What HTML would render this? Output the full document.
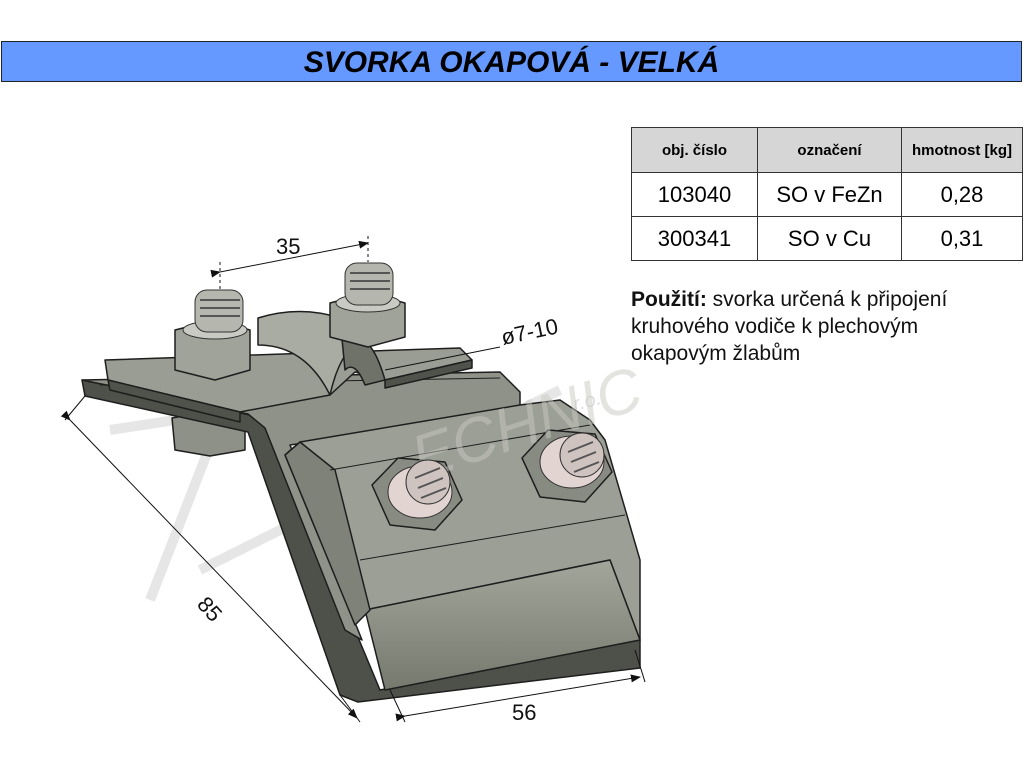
<!DOCTYPE html>
<html><head><meta charset="utf-8"><style>
body{margin:0;width:1027px;height:768px;background:#fff;position:relative;overflow:hidden;font-family:"Liberation Sans",sans-serif}
.title{position:absolute;left:1px;top:41px;width:1019px;height:39px;background:#6699ff;border:1px solid #222;}
.title span{position:absolute;left:0;width:1019px;top:1px;text-align:center;font-weight:bold;font-style:italic;font-size:30px;line-height:40px;color:#000}
table{position:absolute;left:631px;top:127px;border-collapse:collapse;}
td{border:1.5px solid #333;text-align:center;padding:0}
.h td{background:#d6d6d6;font-weight:bold;font-size:15px;height:44px}
.r td{font-size:22px;height:43px}
.txt{position:absolute;left:631px;top:286px;font-size:21px;line-height:27px;color:#111}
</style></head><body>
<svg width="1027" height="768" style="position:absolute;left:0;top:0">
<defs>
<marker id="a" markerWidth="10" markerHeight="8" refX="9" refY="4" orient="auto"><path d="M0,0 L10,4 L0,8 Z" fill="#111"/></marker>
<linearGradient id="g1" x1="0" y1="0" x2="0" y2="1"><stop offset="0" stop-color="#a3a69b"/><stop offset="1" stop-color="#75796e"/></linearGradient>
</defs>
<g fill="none" stroke="#e6e6e6" stroke-width="10">
<path d="M110,430 L240,410 M150,600 L220,420 M200,570 L560,390"/>
</g>
<text x="560" y="415" font-size="20" font-style="italic" fill="#dcdcdc" transform="rotate(-15 560 415)">s.r.o.</text>
<g stroke="#1e1e1e" stroke-width="1.5" stroke-linejoin="round">
<polygon points="172,418 205,412 245,418 245,450 210,456 175,450" fill="#8e9188"/>
<polygon points="82,380 85,396 248,432 340,695 358,702 640,668 640,640 380,690 355,630 270,430 250,415" fill="#4d5149"/>
<polygon points="82,380 500,372 520,392 520,410 290,445 300,470 350,610 362,640 345,630 265,428 248,414" fill="#8f9288"/>
<line x1="100" y1="385" x2="500" y2="378" stroke-width="1"/>
<polygon points="105,360 460,348 472,360 385,380 355,372 330,395 240,412 108,380" fill="#9a9d93"/>
<polygon points="108,380 240,412 240,422 110,390" fill="#4f534b"/>
<polygon points="385,380 472,360 472,368 385,388" fill="#4f534b"/>
<path d="M258,318 Q300,305 340,318 L362,340 Q340,350 330,395 Q305,345 258,345 Z" fill="#a9aca2"/>
<path d="M340,318 Q360,322 362,340 Q375,345 385,380 L365,385 Q355,360 345,370 Z" fill="#6e7268"/>
<polygon points="285,455 300,442 520,405 560,400 590,420 605,440 640,560 640,640 610,560 365,610 320,540" fill="#9c9f95"/>
<polygon points="365,610 610,560 640,640 385,690" fill="url(#g1)"/>
<polygon points="285,455 300,442 335,470 370,610 355,625" fill="#7e8278"/>
<line x1="330" y1="470" x2="590" y2="425" stroke-width="1"/>
<line x1="360" y1="560" x2="625" y2="515" stroke-width="1"/>
<polygon points="175,330 215,320 250,330 250,370 215,380 175,370" fill="#a0a39a"/>
<polygon points="330,303 368,293 405,303 405,337 368,347 330,337" fill="#a0a39a"/>
<polygon points="372,485 398,458 445,462 462,500 435,530 390,525" fill="#888b82"/>
<polygon points="522,458 548,430 595,434 612,472 585,502 540,497" fill="#888b82"/>
</g>
<text x="420" y="480" font-size="62" font-style="italic" fill="#c8cac2" fill-opacity="0.5" transform="rotate(-18 420 480)">ECHNIC</text>
<g stroke="#333" stroke-width="1">
<ellipse cx="215" cy="330" rx="32" ry="9" fill="#c9cac3"/>
<rect x="195" y="290" width="48" height="42" rx="12" fill="#b5b7af"/>
<ellipse cx="368" cy="303" rx="32" ry="9" fill="#c9cac3"/>
<rect x="345" y="263" width="48" height="42" rx="12" fill="#b5b7af"/>
<ellipse cx="420" cy="492" rx="32" ry="26" fill="#e2d4d0"/>
<ellipse cx="428" cy="482" rx="22" ry="22" fill="#cfc3bf"/>
<ellipse cx="572" cy="462" rx="32" ry="26" fill="#e2d4d0"/>
<ellipse cx="582" cy="455" rx="22" ry="22" fill="#cfc3bf"/>
</g>
<g stroke="#555" stroke-width="2" fill="none">
<path d="M200,300 h40 M200,308 h40 M200,316 h40 M350,273 h40 M350,281 h40 M350,289 h40 M415,478 l25,-10 M418,488 l25,-10 M421,498 l25,-10 M568,452 l25,-10 M571,462 l25,-10 M574,472 l25,-10"/>
</g>
<g stroke="#111" stroke-width="1" fill="none">
<line x1="220" y1="272" x2="368" y2="243" marker-start="url(#a)" marker-end="url(#a)"/>
<line x1="220" y1="262" x2="220" y2="290" stroke-dasharray="3,3"/>
<line x1="368" y1="236" x2="368" y2="262" stroke-dasharray="3,3"/>
<line x1="70" y1="420" x2="357" y2="718" marker-start="url(#a)" marker-end="url(#a)"/>
<line x1="85" y1="396" x2="65" y2="420"/>
<line x1="340" y1="695" x2="360" y2="722"/>
<line x1="405" y1="716" x2="640" y2="677" marker-start="url(#a)" marker-end="url(#a)"/>
<line x1="390" y1="690" x2="405" y2="722"/>
<line x1="635" y1="650" x2="645" y2="682"/>
<line x1="385" y1="370" x2="500" y2="347"/>
</g>
<g font-size="22" fill="#111">
<text x="276" y="254">35</text>
<text x="503" y="345" transform="rotate(-12 503 345)">ø7-10</text>
<text x="196" y="605" transform="rotate(48 196 605)">85</text>
<text x="512" y="720">56</text>
</g>
</svg>
<div class="title"><span>SVORKA OKAPOVÁ - VELKÁ</span></div>
<table>
<tr class="h"><td style="width:125px">obj. číslo</td><td style="width:143px">označení</td><td style="width:120px">hmotnost [kg]</td></tr>
<tr class="r"><td>103040</td><td>SO v FeZn</td><td>0,28</td></tr>
<tr class="r"><td>300341</td><td>SO v Cu</td><td>0,31</td></tr>
</table>
<div class="txt"><b>Použití:</b> svorka určená k připojení<br>kruhového vodiče k plechovým<br>okapovým žlabům</div>
</body></html>
